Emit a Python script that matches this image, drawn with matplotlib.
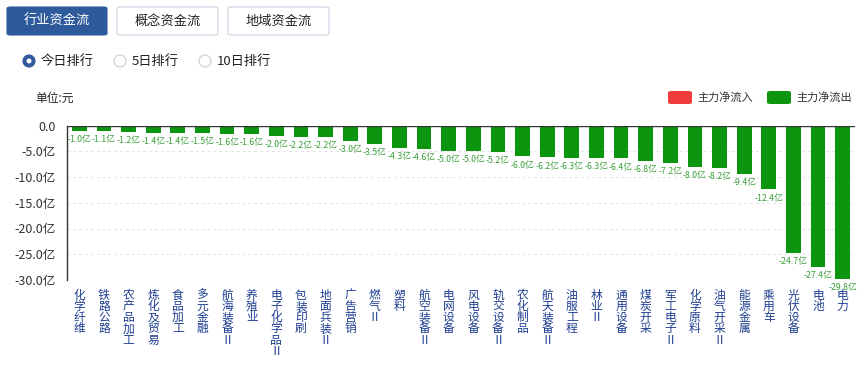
import matplotlib
matplotlib.use("Agg")
import matplotlib.pyplot as plt
from matplotlib.patches import FancyBboxPatch, Ellipse

plt.rcParams["font.family"] = ["Noto Sans CJK SC", "DejaVu Sans"]

# === data ===
industries = ["化学纤维", "铁路公路", "农产品加工", "炼化及贸易", "食品加工", "多元金融",
              "航海装备Ⅱ", "养殖业", "电子化学品Ⅱ", "包装印刷", "地面兵装Ⅱ", "广告营销",
              "燃气Ⅱ", "塑料", "航空装备Ⅱ", "电网设备", "风电设备", "轨交设备Ⅱ",
              "农化制品", "航天装备Ⅱ", "油服工程", "林业Ⅱ", "通用设备", "煤炭开采",
              "军工电子Ⅱ", "化学原料", "油气开采Ⅱ", "能源金属", "乘用车", "光伏设备",
              "电池", "电力"]
net_flow = [-1.0, -1.1, -1.2, -1.4, -1.4, -1.5, -1.6, -1.6, -2.0, -2.2, -2.2, -3.0,
            -3.5, -4.3, -4.6, -5.0, -5.0, -5.2, -6.0, -6.2, -6.3, -6.3, -6.4, -6.8,
            -7.2, -8.0, -8.2, -9.4, -12.4, -24.7, -27.4, -29.8]
y_ticks = [0, -5, -10, -15, -20, -25, -30]
y_tick_labels = ["0.0", "-5.0亿", "-10.0亿", "-15.0亿", "-20.0亿", "-25.0亿", "-30.0亿"]

W, H = 867, 365
GREEN = "#0c960f"
RED = "#f03c3c"
BLUE = "#2e5a9c"


def px(x, y):
    return x / W, 1 - y / H


fig = plt.figure(figsize=(W / 100, H / 100), dpi=100)

# === header buttons ===
buttons = [("行业资金流", 7, 107, True), ("概念资金流", 117, 218, False), ("地域资金流", 228, 329, False)]
for label, x0, x1, active in buttons:
    bx, by = px(x0, 35)
    bw, bh = (x1 - x0) / W, 28 / H
    fig.patches.append(FancyBboxPatch((bx, by), bw, bh, boxstyle="round,pad=0,rounding_size=0.004",
                                      transform=fig.transFigure,
                                      facecolor=BLUE if active else "white",
                                      edgecolor=BLUE if active else "#c9d3e0", linewidth=0.8))
    fig.text(*px((x0 + x1) / 2, 21.5), label, ha="center", va="center", fontsize=9.5,
             color="white" if active else "#222222")

# === radio buttons ===
radios = [("今日排行", 29, True), ("5日排行", 120, False), ("10日排行", 205, False)]
for label, cx, checked in radios:
    fig.patches.append(Ellipse(px(cx, 61), 12 / W, 12 / H, transform=fig.transFigure,
                               facecolor=BLUE if checked else "white",
                               edgecolor=BLUE if checked else "#c8d0da", linewidth=0.8))
    if checked:
        fig.patches.append(Ellipse(px(cx, 61), 5 / W, 5 / H, transform=fig.transFigure,
                                   facecolor="white", edgecolor="none"))
    fig.text(*px(cx + 12, 61), label, ha="left", va="center", fontsize=9.5, color="#222222")

# === unit + legend ===
fig.text(*px(35, 98), "单位:元", ha="left", va="center", fontsize=8.5, color="#222222")
for color, label, x0 in [(RED, "主力净流入", 668), (GREEN, "主力净流出", 767)]:
    lx, ly = px(x0, 104)
    fig.patches.append(FancyBboxPatch((lx, ly), 24 / W, 13 / H,
                                      boxstyle="round,pad=0,rounding_size=0.004",
                                      transform=fig.transFigure, facecolor=color, edgecolor="none"))
    fig.text(*px(x0 + 29, 97.5), label, ha="left", va="center", fontsize=8, color="#333333")

# === chart ===
ax = fig.add_axes([67 / W, (H - 280) / H, (855 - 67) / W, 154.5 / H])
x = list(range(len(industries)))
ax.bar(x, net_flow, width=0.6, color=GREEN, zorder=3)
for xi, v in zip(x, net_flow):
    ax.annotate(f"{v:.1f}亿", (xi, v), xytext=(0, -3), textcoords="offset points",
                ha="center", va="top", fontsize=6.3, color="#3a9d3a", zorder=4)

ax.set_xlim(-0.5, len(industries) - 0.5)
ax.set_ylim(-30, 0)
ax.set_yticks(y_ticks)
ax.set_yticklabels(y_tick_labels, fontsize=9, color="#333333")
ax.yaxis.grid(True, linestyle=(0, (3, 3)), color="#e3e3e3", linewidth=0.7, zorder=0)
ax.axhline(0, color="#333333", linewidth=1.0, zorder=5)

# vertical category labels, one character per line
ax.set_xticks([])
xform = ax.get_xaxis_transform()
for xi, name in zip(x, industries):
    for j, ch in enumerate(name):
        ax.annotate(ch, (xi, 0), xycoords=xform, xytext=(0, -15 - j * 11.3),
                    textcoords="offset pixels", ha="center", va="center",
                    fontsize=8.5, color="#1e3f91")

ax.tick_params(axis="y", length=0, pad=8)
for side in ["top", "right", "bottom"]:
    ax.spines[side].set_visible(False)
ax.spines["left"].set_color("#333333")
ax.spines["left"].set_linewidth(1.0)

fig.savefig("out.png", dpi=100)
